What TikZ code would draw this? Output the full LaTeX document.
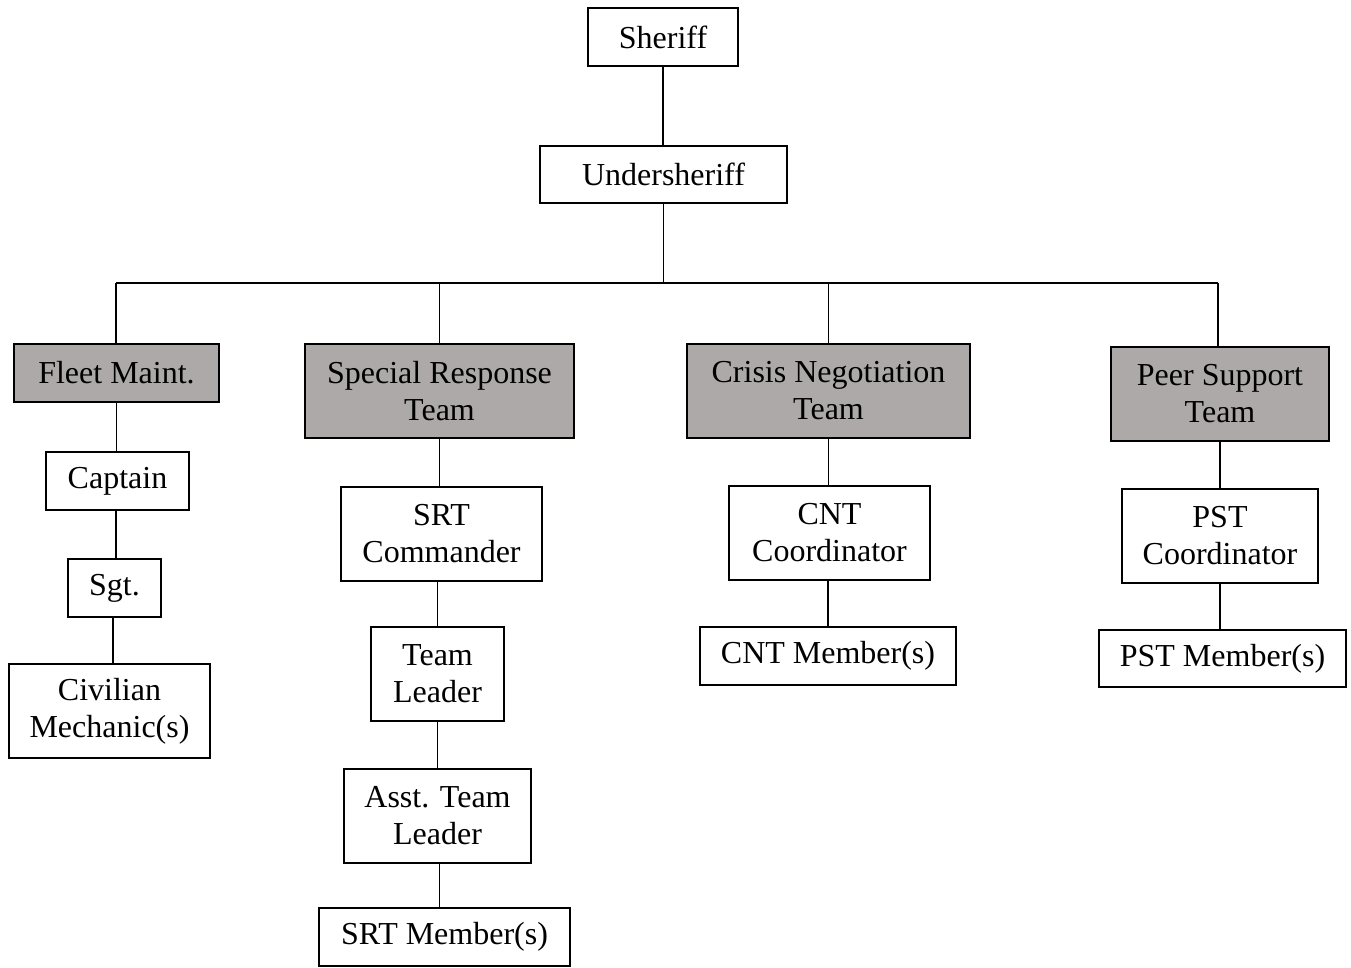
\documentclass[tikz,border=0pt]{standalone}
\usepackage{fontspec}
\setmainfont{Liberation Serif}
\definecolor{boxgray}{HTML}{ADA9A8}
\tikzset{
  box/.style={draw=black, line width=2pt, fill=white, inner sep=0pt, align=center,
    font=\fontsize{32}{37}\selectfont},
  gbox/.style={box, fill=boxgray},
  link/.style={draw=black, line width=1.1pt}
}
\begin{document}
\begin{tikzpicture}[x=1pt,y=-1pt]
\useasboundingbox (0,0) rectangle (1351,967);
% top
\node[box, minimum width=150pt, minimum height=58pt] (sh) at (663,37) {Sheriff};
\node[box, minimum width=247pt, minimum height=57pt] (us) at (663.5,174.5) {Undersheriff};
\coordinate (bus) at (0,283);
\coordinate (busL) at (116,283);
\coordinate (busR) at (1218,283);
% departments
\node[gbox, minimum width=205pt, minimum height=58pt] (fm) at (116.5,373) {Fleet Maint.};
\node[gbox, minimum width=269pt, minimum height=94pt] (srt) at (439.5,391) {Special Response\\Team};
\node[gbox, minimum width=283pt, minimum height=94pt] (cnt) at (828.5,391) {Crisis Negotiation\\Team};
\node[gbox, minimum width=218pt, minimum height=94pt] (pst) at (1220,394) {Peer Support\\Team};
% fleet
\node[box, minimum width=143pt, minimum height=58pt] (cap) at (117.5,481) {Captain};
\node[box, minimum width=93pt, minimum height=58pt] (sgt) at (114.5,588) {Sgt.};
\node[box, minimum width=201pt, minimum height=94pt] (civ) at (109.5,711) {Civilian\\Mechanic(s)};
% srt
\node[box, minimum width=201pt, minimum height=94pt] (srtc) at (441.5,534) {SRT\\Commander};
\node[box, minimum width=133pt, minimum height=94pt] (tl) at (437.5,674) {Team\\Leader};
\node[box, minimum width=187pt, minimum height=94pt] (atl) at (437.5,816) {Asst. Team\\Leader};
\node[box, minimum width=251pt, minimum height=58pt] (srtm) at (444.5,937) {SRT Member(s)};
% cnt
\node[box, minimum width=201pt, minimum height=94pt] (cntc) at (829.5,533) {CNT\\Coordinator};
\node[box, minimum width=256pt, minimum height=58pt] (cntm) at (828,656) {CNT Member(s)};
% pst
\node[box, minimum width=196pt, minimum height=94pt] (pstc) at (1220,536) {PST\\Coordinator};
\node[box, minimum width=247pt, minimum height=57pt] (pstm) at (1222.5,658.5) {PST Member(s)};
% connectors
\draw[link] (sh.south) -- (sh.south |- us.north);
\draw[link] (us.south) -- (us.south |- bus);
\draw[link] (busL) -- (busR);
\draw[link] (fm.north -| busL) -- (busL);
\draw[link] (srt.north) -- (srt.north |- bus);
\draw[link] (cnt.north) -- (cnt.north |- bus);
\draw[link] (pst.north -| busR) -- (busR);
\draw[link] (fm.south) -- (fm.south |- cap.north);
\draw[link] (cap.south -| sgt.north) ++(1.5,0) -- ++(0,{49});
\draw[link] (sgt.south) ++(-1.5,0) -- ++(0,46);
\draw[link] (srt.south) -- (srt.south |- srtc.north);
\draw[link] (srtc.south -| tl.north) -- (tl.north);
\draw[link] (tl.south) -- (tl.south |- atl.north);
\draw[link] (atl.south) ++(2,0) -- ++(0,45);
\draw[link] (cnt.south) -- (cnt.south |- cntc.north);
\draw[link] (cntc.south -| cntm.north) -- (cntm.north);
\draw[link] (pst.south) -- (pst.south |- pstc.north);
\draw[link] (pstc.south) -- (pstc.south |- pstm.north);
\end{tikzpicture}
\end{document}
